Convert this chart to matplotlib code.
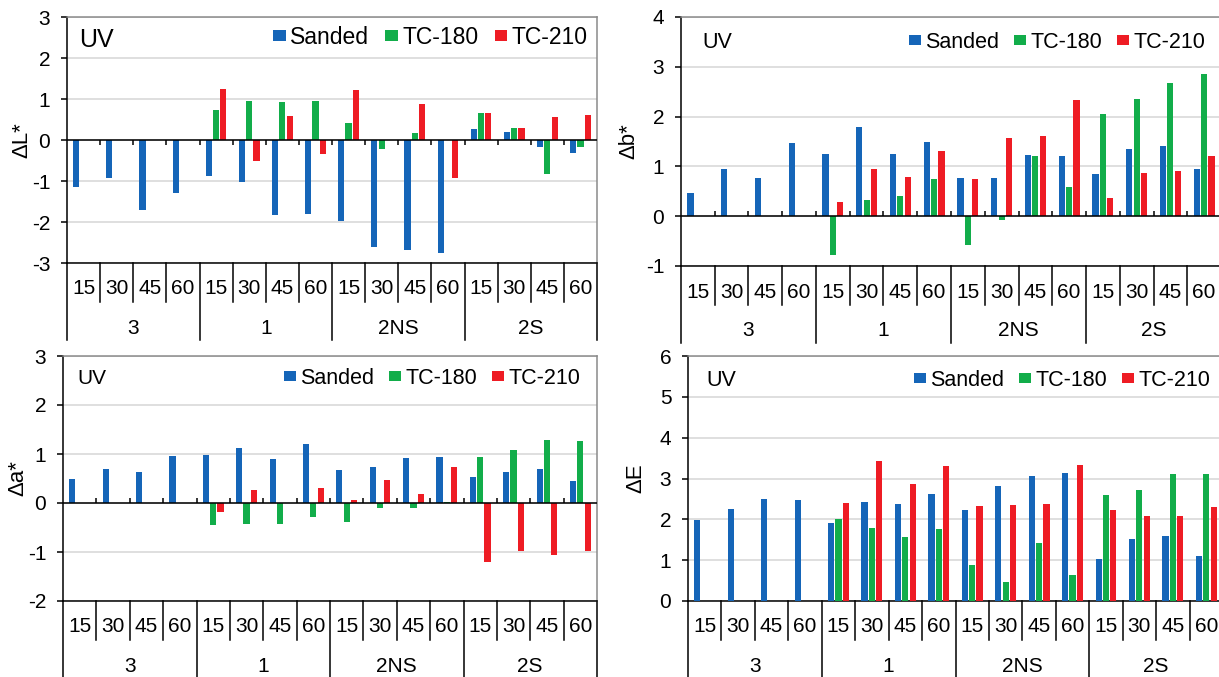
import numpy as np
import matplotlib
matplotlib.use('Agg')
import matplotlib.pyplot as plt
from matplotlib import transforms as mtrans
from matplotlib.lines import Line2D
from matplotlib.patches import Patch

plt.rcParams['font.family'] = ['Liberation Sans', 'DejaVu Sans']
plt.rcParams['axes.unicode_minus'] = False

# ---------------- data ----------------
groups = ['3', '1', '2NS', '2S']
times = ['15', '30', '45', '60']
series = ['Sanded', 'TC-180', 'TC-210']
colors = ['#1565b8', '#12ad4a', '#ee1c24']
nan = np.nan

dL_sanded = [-1.15, -0.92, -1.70, -1.30, -0.88, -1.02, -1.84, -1.80,
             -1.98, -2.62, -2.68, -2.76, 0.27, 0.19, -0.18, -0.31]
dL_tc180 = [nan, nan, nan, nan, 0.74, 0.96, 0.93, 0.96,
            0.41, -0.22, 0.17, nan, 0.67, 0.30, -0.82, -0.16]
dL_tc210 = [nan, nan, nan, nan, 1.25, -0.51, 0.58, -0.33,
            1.21, nan, 0.89, -0.92, 0.67, 0.30, 0.55, 0.60]

db_sanded = [0.46, 0.94, 0.77, 1.47, 1.25, 1.79, 1.24, 1.48,
             0.76, 0.76, 1.22, 1.20, 0.85, 1.34, 1.41, 0.95]
db_tc180 = [nan, nan, nan, nan, -0.77, 0.33, 0.41, 0.74,
            -0.58, -0.07, 1.20, 0.59, 2.05, 2.36, 2.67, 2.86]
db_tc210 = [nan, nan, nan, nan, 0.29, 0.95, 0.78, 1.30,
            0.74, 1.57, 1.62, 2.34, 0.36, 0.86, 0.90, 1.21]

da_sanded = [0.49, 0.70, 0.64, 0.95, 0.97, 1.12, 0.90, 1.20,
             0.68, 0.73, 0.91, 0.94, 0.53, 0.64, 0.69, 0.45]
da_tc180 = [nan, nan, nan, nan, -0.45, -0.43, -0.43, -0.28,
            -0.38, -0.10, -0.11, 0.03, 0.93, 1.08, 1.28, 1.26]
da_tc210 = [nan, nan, nan, nan, -0.18, 0.27, nan, 0.31,
            0.06, 0.47, 0.18, 0.73, -1.21, -0.98, -1.07, -0.98]

dE_sanded = [1.99, 2.25, 2.49, 2.47, 1.91, 2.42, 2.38, 2.62,
             2.23, 2.82, 3.06, 3.14, 1.04, 1.51, 1.58, 1.11]
dE_tc180 = [nan, nan, nan, nan, 2.00, 1.78, 1.56, 1.76,
            0.88, 0.46, 1.42, 0.64, 2.59, 2.73, 3.11, 3.12]
dE_tc210 = [nan, nan, nan, nan, 2.40, 3.43, 2.86, 3.31,
            2.33, 2.36, 2.38, 3.33, 2.23, 2.09, 2.07, 2.30]

# ---------------- figure ----------------
W, H = 1219, 677
fig = plt.figure(figsize=(W / 100, H / 100), dpi=100)

AX_LW = 1.1
GRID_C = '#d9d9d9'
FRAME_C = '#8a8a8a'


def panel(rect_px, data, ylim, ylabel, label_dx, leg_fs, leg_anchor, uv_px, uv_fs,
          zero_tick_up=True):
    L, R, T, B = rect_px
    ax = fig.add_axes([L / W, 1 - B / H, (R - L) / W, (B - T) / H])
    n = len(groups) * len(times)
    x = np.arange(n)
    for k, vals in enumerate(data):
        ax.bar(x + (k - 1) * 0.22, vals, width=0.185, color=colors[k],
               zorder=3, linewidth=0)
    ax.set_xlim(-0.5, n - 0.5)
    ax.set_ylim(*ylim)
    ax.set_yticks(range(ylim[0], ylim[1] + 1))
    ax.set_xticks([])
    ax.yaxis.grid(True, color=GRID_C, lw=1.2)
    ax.set_axisbelow(True)
    ax.tick_params(axis='y', length=4, width=AX_LW, pad=8, labelsize=15,
                   color='black')
    for s in ['left', 'bottom']:
        ax.spines[s].set_color('black')
        ax.spines[s].set_linewidth(AX_LW)
    for s in ['top', 'right']:
        ax.spines[s].set_color(FRAME_C)
        ax.spines[s].set_linewidth(AX_LW)

    # zero axis line with small tick marks
    px_per_unit = (B - T) / (ylim[1] - ylim[0])
    if ylim[0] < 0:
        ax.axhline(0, color='black', lw=AX_LW, zorder=4)
        tl = 5 / px_per_unit * (1 if zero_tick_up else -1)
        for b in np.arange(0.5, n - 0.5, 1.0):
            ax.plot([b, b], [0, tl], color='black', lw=AX_LW, zorder=4,
                    solid_capstyle='butt')

    # category labels / separators below the plot
    tr = mtrans.blended_transform_factory(ax.transData, fig.transFigure)
    yb = 1 - B / H
    y_short = 1 - (B + 39) / H
    y_long = 1 - (B + 77) / H
    for i in range(n + 1):
        xb = i - 0.5
        y2 = y_long if i % len(times) == 0 else y_short
        ax.add_line(Line2D([xb, xb], [yb, y2], transform=tr, color='black',
                           lw=AX_LW, clip_on=False))
    for i in range(n):
        ax.text(i, 1 - (B + 26) / H, times[i % len(times)], transform=tr,
                ha='center', va='center', fontsize=15)
    for g, name in enumerate(groups):
        xc = g * len(times) + (len(times) - 1) / 2
        ax.text(xc, 1 - (B + 65) / H, name, transform=tr,
                ha='center', va='center', fontsize=15)

    ax.set_ylabel(ylabel, fontsize=16)
    ax.yaxis.set_label_coords(-label_dx / (R - L), 0.5)

    handles = [Patch(facecolor=c, edgecolor='none') for c in colors]
    ax.legend(handles, series, ncol=3, loc='center right',
              bbox_to_anchor=((leg_anchor[0] - L) / (R - L),
                              (B - leg_anchor[1]) / (B - T)),
              frameon=False, fontsize=leg_fs, handlelength=0.55,
              handleheight=0.33, handletextpad=0.2, columnspacing=0.7,
              borderaxespad=0, borderpad=0)
    ax.text((uv_px[0] - L) / (R - L), (B - uv_px[1]) / (B - T), 'UV',
            transform=ax.transAxes, ha='left', va='center', fontsize=uv_fs)
    return ax


panel((67, 597, 17, 263), [dL_sanded, dL_tc180, dL_tc210], (-3, 3), 'ΔL*', 35,
      16.5, (588, 37), (79, 40), 18, zero_tick_up=False)
panel((681, 1221, 17, 266), [db_sanded, db_tc180, db_tc210], (-1, 4), 'Δb*', 42,
      15.5, (1205, 42), (702, 42), 15.5)
panel((63, 597, 356, 601), [da_sanded, da_tc180, da_tc210], (-2, 3), 'Δa*', 35,
      15.5, (580, 378), (77, 378), 15)
panel((688, 1223, 356, 601), [dE_sanded, dE_tc180, dE_tc210], (0, 6), 'ΔE', 42,
      15.5, (1210, 380), (706, 380), 15.5)

fig.savefig('out.png', dpi=100)
